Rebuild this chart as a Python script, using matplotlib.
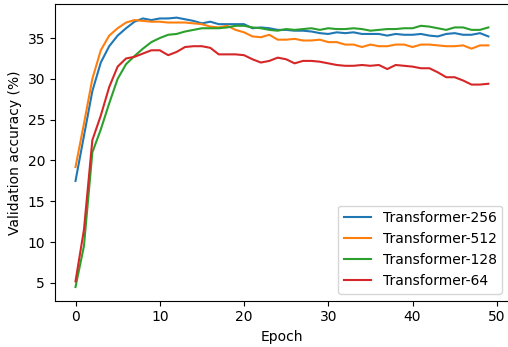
import numpy as np
import matplotlib
matplotlib.use("Agg")
import matplotlib.pyplot as plt

epochs = np.arange(50)

acc_256 = [17.5, 23.0, 28.5, 32.0, 34.0, 35.3, 36.2, 37.0, 37.4, 37.2,
           37.4, 37.4, 37.5, 37.3, 37.1, 36.8, 37.0, 36.7, 36.7, 36.7,
           36.7, 36.2, 36.3, 36.2, 36.0, 36.0, 35.9, 35.9, 35.8, 35.6,
           35.5, 35.7, 35.6, 35.7, 35.5, 35.5, 35.5, 35.3, 35.5, 35.4,
           35.4, 35.5, 35.3, 35.2, 35.5, 35.6, 35.4, 35.4, 35.6, 35.2]
acc_512 = [19.2, 24.5, 30.0, 33.5, 35.3, 36.2, 36.9, 37.2, 37.1, 37.0,
           37.0, 36.9, 36.9, 36.9, 36.8, 36.7, 36.4, 36.3, 36.5, 36.0,
           35.7, 35.2, 35.1, 35.4, 34.8, 34.8, 34.9, 34.7, 34.7, 34.8,
           34.5, 34.5, 34.2, 34.2, 33.9, 34.2, 34.0, 34.0, 34.2, 34.2,
           33.9, 34.2, 34.2, 34.1, 34.0, 34.0, 34.1, 33.7, 34.1, 34.1]
acc_128 = [4.5, 9.5, 21.0, 23.8, 27.0, 30.0, 31.8, 32.8, 33.7, 34.5,
           35.0, 35.4, 35.5, 35.8, 36.0, 36.2, 36.2, 36.2, 36.3, 36.5,
           36.5, 36.3, 36.2, 36.0, 35.9, 36.1, 36.0, 36.1, 36.2, 36.0,
           36.2, 36.1, 36.1, 36.2, 36.1, 35.9, 36.0, 36.1, 36.1, 36.2,
           36.2, 36.5, 36.4, 36.2, 36.0, 36.3, 36.3, 36.0, 36.0, 36.3]
acc_64 = [5.2, 11.5, 22.5, 25.5, 29.0, 31.5, 32.5, 32.7, 33.1, 33.5,
          33.5, 32.9, 33.3, 33.9, 34.0, 34.0, 33.8, 33.0, 33.0, 33.0,
          32.9, 32.4, 32.0, 32.2, 32.6, 32.4, 31.9, 32.2, 32.2, 32.1,
          31.9, 31.7, 31.6, 31.6, 31.7, 31.6, 31.7, 31.2, 31.7, 31.6,
          31.5, 31.3, 31.3, 30.8, 30.2, 30.2, 29.8, 29.3, 29.3, 29.4]

series = [("Transformer-256", acc_256), ("Transformer-512", acc_512),
          ("Transformer-128", acc_128), ("Transformer-64", acc_64)]

fig = plt.figure(figsize=(5.08, 3.47), dpi=100)
ax = fig.add_axes([0.108, 0.134, 0.894, 0.854])
for name, vals in series:
    ax.plot(epochs, vals, label=name, lw=1.5)

ax.set_xlabel("Epoch")
ax.set_ylabel("Validation accuracy (%)")
ax.set_xticks([0, 10, 20, 30, 40, 50])
ax.set_yticks([5, 10, 15, 20, 25, 30, 35])
ax.legend(loc="lower right")

fig.savefig("out.png", dpi=100)
